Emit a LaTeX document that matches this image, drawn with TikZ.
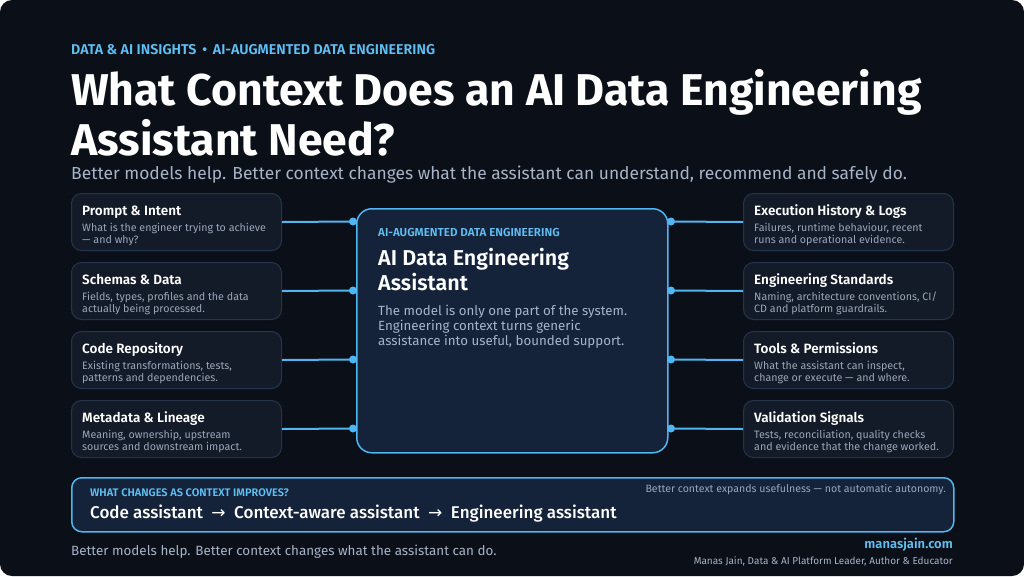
\documentclass[tikz,border=0pt]{standalone}
\usepackage{fontspec}
\setmainfont{Fira Sans}
\newfontfamily\semib{Fira Sans SemiBold}
\newfontfamily\medf{Fira Sans Medium}
\newfontfamily\arrowfont{DejaVu Sans}
\usetikzlibrary{calc}
\definecolor{bgc}{HTML}{0B0F17}
\definecolor{boxfill}{HTML}{131B29}
\definecolor{boxline}{HTML}{26354B}
\definecolor{cfill}{HTML}{14233A}
\definecolor{accent}{HTML}{4FB6F2}
\definecolor{lblue}{HTML}{5EC0F5}
\definecolor{subgray}{HTML}{A6B4C8}
\definecolor{descgray}{HTML}{9AA6B8}
\tikzset{
  ctx/.style={draw=boxline, line width=1pt, fill=boxfill, rounded corners=10pt, minimum width=210pt, minimum height=57pt, inner sep=0pt},
  txt/.style={inner sep=0pt, anchor=base west},
  boxtitle/.style={txt, text=white, font=\fontsize{13.5}{16}\selectfont\semib},
  boxdesc/.style={txt, text=descgray, font=\fontsize{10.7}{12}\selectfont},
  conn/.style={draw=accent, line width=2pt},
  dot/.style={circle, fill=accent, inner sep=0pt, minimum size=8pt},
}
\newcommand\ctxbox[6]{%
  \node[ctx, anchor=north west] (#1) at (#2,#3) {};
  \node[boxtitle] (#1t) at ($(#2,#3)+(11,22)$) {#4};
  \node[boxdesc] (#1a) at ($(#2,#3)+(11,38)$) {#5};
  \node[boxdesc] (#1b) at ($(#2,#3)+(11,50)$) {#6};
}
\begin{document}
\begin{tikzpicture}[x=1pt,y=-1pt]
\useasboundingbox (0,0) rectangle (1024,576);
\fill[white] (0,0) rectangle (1024,576);
\fill[bgc, rounded corners=12pt] (0,0) rectangle (1024,576);

% header
\node[txt, text=lblue, font=\fontsize{14.2}{15}\selectfont\semib] (kicker) at (71,54) {DATA \& AI INSIGHTS \,•\, AI-AUGMENTED DATA ENGINEERING};
\node[txt, text=white, font=\fontsize{44.5}{50}\selectfont\bfseries] (title1) at (71,105) {What Context Does an AI Data Engineering};
\node[txt, text=white, font=\fontsize{44.5}{50}\selectfont\bfseries] (title2) at (71,155) {Assistant Need?};
\node[txt, text=subgray, font=\fontsize{17.4}{20}\selectfont] (subtitle) at (71,179) {Better models help. Better context changes what the assistant can understand, recommend and safely do.};

% left boxes
\ctxbox{L1}{71}{193}{Prompt \& Intent}{What is the engineer trying to achieve}{— and why?}
\ctxbox{L2}{71}{262}{Schemas \& Data}{Fields, types, profiles and the data}{actually being processed.}
\ctxbox{L3}{71}{331}{Code Repository}{Existing transformations, tests,}{patterns and dependencies.}
\ctxbox{L4}{71}{400}{Metadata \& Lineage}{Meaning, ownership, upstream}{sources and downstream impact.}
% right boxes
\ctxbox{R1}{743}{193}{Execution History \& Logs}{Failures, runtime behaviour, recent}{runs and operational evidence.}
\ctxbox{R2}{743}{262}{Engineering Standards}{Naming, architecture conventions, CI/}{CD and platform guardrails.}
\ctxbox{R3}{743}{331}{Tools \& Permissions}{What the assistant can inspect,}{change or execute — and where.}
\ctxbox{R4}{743}{400}{Validation Signals}{Tests, reconciliation, quality checks}{and evidence that the change worked.}

% center box
\node[draw=accent, line width=1.5pt, fill=cfill, rounded corners=15pt, minimum width=311pt, minimum height=244pt, anchor=north west, inner sep=0pt] (center) at (356,208) {};
\node[txt, text=lblue, font=\fontsize{11.6}{12}\selectfont\semib] (ckicker) at (378,236) {AI-AUGMENTED DATA ENGINEERING};
\node[txt, text=white, font=\fontsize{21.5}{24}\selectfont\semib] (ctitle1) at (378,265) {AI Data Engineering};
\node[txt, text=white, font=\fontsize{21.5}{24}\selectfont\semib] (ctitle2) at (378,290) {Assistant};
\node[txt, text=subgray, font=\fontsize{13.3}{15}\selectfont] (cb1) at (378,315) {The model is only one part of the system.};
\node[txt, text=subgray, font=\fontsize{13.3}{15}\selectfont] (cb2) at (378,330) {Engineering context turns generic};
\node[txt, text=subgray, font=\fontsize{13.3}{15}\selectfont] (cb3) at (378,345) {assistance into useful, bounded support.};

% connectors
\foreach \i/\y in {1/221.5,2/290.5,3/359.5,4/428.5}{
  \node[dot] (dl\i) at (353,\y) {};
  \node[dot] (dr\i) at (671,\y) {};
  \draw[conn] (L\i.east) -- (dl\i.center);
  \draw[conn] (dr\i.center) -- (R\i.west);
}

% bottom panel
\node[draw=accent, line width=1.5pt, fill=cfill, rounded corners=10pt, minimum width=882pt, minimum height=54pt, anchor=north west, inner sep=0pt] (panel) at (71,477) {};
\node[txt, text=lblue, font=\fontsize{11}{11}\selectfont\semib] (pkicker) at (90,496) {WHAT CHANGES AS CONTEXT IMPROVES?};
\node[inner sep=0pt, anchor=base east, text=descgray, font=\fontsize{10.6}{12}\selectfont] (pnote) at (946,492) {Better context expands usefulness — not automatic autonomy.};
\node[txt, text=white, font=\fontsize{17}{18}\selectfont\medf] (pflow) at (90,518) {Code assistant \ {\arrowfont →}\ \ Context-aware assistant \ {\arrowfont →}\ \ Engineering assistant};

% footer
\node[txt, text=subgray, font=\fontsize{13.4}{15}\selectfont] (foot) at (71,555) {Better models help. Better context changes what the assistant can do.};
\node[inner sep=0pt, anchor=base east, text=lblue, font=\fontsize{13}{15}\selectfont\semib] (site) at (953,548) {manasjain.com};
\node[inner sep=0pt, anchor=base east, text=subgray, font=\fontsize{10}{12}\selectfont] (author) at (953,564) {Manas Jain, Data \& AI Platform Leader, Author \& Educator};
\end{tikzpicture}
\end{document}
